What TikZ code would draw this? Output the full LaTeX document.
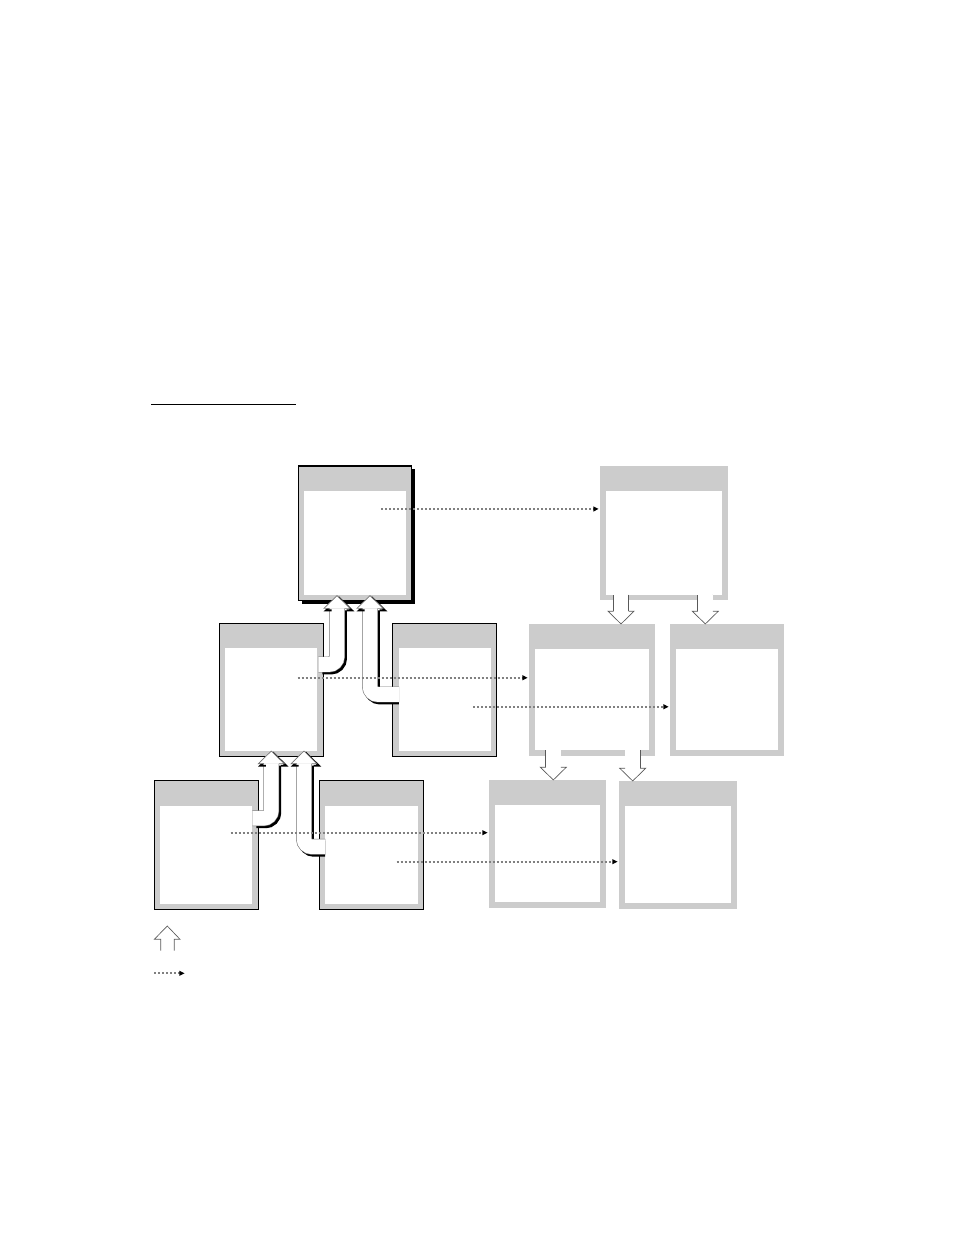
\documentclass[tikz,border=0pt]{standalone}
\usetikzlibrary{arrows.meta,calc,shadows}
\definecolor{wingray}{gray}{0.8}
\definecolor{dotgray}{gray}{0.5}

\tikzset{
  win/.style={rectangle,fill=wingray,inner sep=0pt,outer sep=0pt,
    path picture={\fill[white] ([shift={(4.5pt,4.1pt)}]path picture bounding box.south west)
      rectangle ([shift={(-4.5pt,-18.75pt)}]path picture bounding box.north east);}},
  openwin/.style={win,draw=black,line width=0.8pt},
  link/.style={draw=dotgray,line width=1.4pt,dash pattern=on 1.4pt off 1.6pt,
    -{Triangle[length=4pt,width=3.6pt,color=black]},shorten >=1pt},
  upshaft/.style={line width=11.9pt,draw=black!55,rounded corners=6pt,
    preaction={draw=black,line width=11.9pt,shorten <=1.6pt,
      transform canvas={shift={(1.5pt,-1.5pt)}}},
    postaction={draw=white,line width=11pt}},
  downshaft/.style={line width=11.9pt,draw=black!65,
    postaction={draw=white,line width=11pt}},
  pics/uphead/.style={code={
    \draw[black,line width=1.4pt,shift={(2,2)}] (-7.5,12.7) -- (-13,12.7) -- (0,0) -- (13,12.7) -- (7.5,12.7);
    \fill[white] (-13,12.7) -- (0,0) -- (13,12.7) -- cycle;
    \draw[black!55,line width=0.5pt] (-7.5,12.7) -- (-13,12.7) -- (0,0) -- (13,12.7) -- (7.5,12.7);}},
  pics/downhead/.style={code={
    \fill[white] (-13,-12.7) -- (0,0) -- (13,-12.7) -- cycle;
    \draw[black!65,line width=0.5pt] (-7.5,-12.7) -- (-13,-12.7) -- (0,0) -- (13,-12.7) -- (7.5,-12.7);}}
}

\begin{document}
\begin{tikzpicture}[x=0.75pt,y=-0.75pt]
  \useasboundingbox (0,0) rectangle (954,1235);
  \draw[line width=0.8pt] (151,404.3) -- (296,404.3);

  % windows
  \node[openwin,minimum width=85pt,minimum height=101pt,
    drop shadow={shadow xshift=2.4pt,shadow yshift=-2.2pt,fill=black,opacity=1}] (A) at (355,533.3) {};
  \node[openwin,minimum width=78pt,minimum height=99.5pt] (B) at (271.3,689.7) {};
  \node[openwin,minimum width=78pt,minimum height=99.5pt] (C) at (444.7,689.7) {};
  \node[openwin,minimum width=78pt,minimum height=96.5pt] (D) at (206.3,845) {};
  \node[openwin,minimum width=78.3pt,minimum height=96.5pt] (E) at (371.5,845) {};
  \node[win,minimum width=96pt,minimum height=100.5pt] (F) at (664,533) {};
  \node[win,minimum width=94.5pt,minimum height=98.8pt] (G) at (592,689.8) {};
  \node[win,minimum width=85.5pt,minimum height=98.8pt] (H) at (727,689.8) {};
  \node[win,minimum width=87.75pt,minimum height=95.8pt] (I) at (547.5,843.8) {};
  \node[win,minimum width=88.5pt,minimum height=95.8pt] (J) at (678,844.8) {};

  % bent arrows up
  \coordinate (a1) at ([shift={(-18,-5)}]A.south);
  \coordinate (a2) at ([shift={(15,-5)}]A.south);
  \coordinate (b2) at ([shift={(0,-5)}]B.south);
  \coordinate (b3) at ([shift={(32.7,-5)}]B.south);
  \draw[upshaft] ([shift={(-5,-25.2)}]B.east) coordinate (bo) -- (bo -| a1) -- ($(a1)+(0,12.7)$);
  \draw[upshaft] ([shift={(6.3,4.8)}]C.west) coordinate (co) -- (co -| a2) -- ($(a2)+(0,12.7)$);
  \draw[upshaft] ([shift={(-6,-26.7)}]D.east) coordinate (do) -- (do -| b2) -- ($(b2)+(0,12.7)$);
  \draw[upshaft] ([shift={(6,1.8)}]E.west) coordinate (eo) -- (eo -| b3) -- ($(b3)+(0,12.7)$);
  \foreach \t in {a1,a2,b2,b3} \pic at (\t) {uphead};

  % straight arrows down
  \coordinate (g1) at ([shift={(29,0)}]G.north);
  \coordinate (h1) at ([shift={(-21.7,0)}]H.north);
  \coordinate (i1) at ([shift={(5.8,0)}]I.north);
  \coordinate (j1) at ([shift={(-45.3,0)}]J.north);
  \draw[downshaft] ($(g1 |- F.south)+(0,-5.5)$) -- ($(g1)+(0,-12.7)$);
  \draw[downshaft] ($(h1 |- F.south)+(0,-5.5)$) -- ($(h1)+(0,-12.7)$);
  \draw[downshaft] ($(i1 |- G.south)+(0,-5.5)$) -- ($(i1)+(0,-12.7)$);
  \draw[downshaft] ($(j1 |- G.south)+(0,-5.5)$) -- ($(j1)+(0,-12.7)$);
  \foreach \t in {g1,h1,i1,j1} \pic at (\t) {downhead};

  % dotted links
  \draw[link] ([shift={(82.7,43)}]A.north west) coordinate (l1) -- (l1 -| F.west);
  \draw[link] ([shift={(78.4,54.4)}]B.north west) coordinate (l2) -- (l2 -| G.west);
  \draw[link] ([shift={(80.6,83.4)}]C.north west) coordinate (l3) -- (l3 -| H.west);
  \draw[link] ([shift={(76.4,52)}]D.north west) coordinate (l4) -- (l4 -| I.west);
  \draw[link] ([shift={(77.4,81)}]E.north west) coordinate (l5) -- (l5 -| J.west);

  % legend
  \draw[black!65,line width=0.5pt] (160.7,950.7) -- (160.7,939.3) -- (154.3,939.3) -- (167.3,926)
    -- (180,939.3) -- (174.3,939.3) -- (174.3,950.7);
  \coordinate (k1) at (154,973.3);
  \coordinate (k2) at (186,973.3);
  \draw[link] (k1) -- (k2);
\end{tikzpicture}
\end{document}
